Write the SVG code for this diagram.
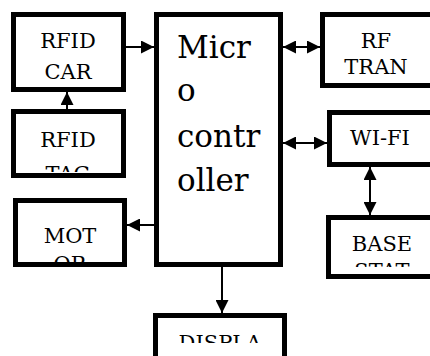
<svg xmlns="http://www.w3.org/2000/svg" width="430" height="356" viewBox="0 0 430 356">
<style>
.box{fill:#fff;stroke:#000;stroke-width:5}
text{font-family:'DejaVu Serif','Liberation Serif',serif;fill:#000}
.t{font-size:21px;text-anchor:middle}
.big{font-size:31px}
.c{stroke:#000;stroke-width:2;fill:none}
</style>
<defs>
<marker id="ah" markerUnits="userSpaceOnUse" markerWidth="13" markerHeight="13" refX="13" refY="6.5" orient="auto-start-reverse">
<path d="M0,0 L13,6.5 L0,13 z" fill="#000"/>
</marker>
<clipPath id="cCar"><rect x="16" y="17" width="105" height="70"/></clipPath>
<clipPath id="cTag"><rect x="16" y="114" width="105" height="58"/></clipPath>
<clipPath id="cMot"><rect x="18" y="203" width="104" height="59"/></clipPath>
<clipPath id="cRf"><rect x="325" y="17" width="105" height="66"/></clipPath>
<clipPath id="cWifi"><rect x="332" y="115" width="98" height="47"/></clipPath>
<clipPath id="cBase"><rect x="331" y="220" width="99" height="47"/></clipPath>
<clipPath id="cDisp"><rect x="158" y="318" width="124" height="25"/></clipPath>
</defs>
<g id="connectors">
<line class="c" x1="126" y1="47" x2="154" y2="47" marker-end="url(#ah)"/>
<line class="c" x1="67" y1="109" x2="67" y2="92" marker-end="url(#ah)"/>
<line class="c" x1="283" y1="47" x2="320" y2="47" marker-start="url(#ah)" marker-end="url(#ah)"/>
<line class="c" x1="283" y1="143" x2="327" y2="143" marker-start="url(#ah)" marker-end="url(#ah)"/>
<line class="c" x1="370" y1="167" x2="370" y2="215" marker-start="url(#ah)" marker-end="url(#ah)"/>
<line class="c" x1="154" y1="225" x2="127" y2="225" marker-end="url(#ah)"/>
<line class="c" x1="222" y1="267" x2="222" y2="313" marker-end="url(#ah)"/>
</g>
<g id="rfid-car">
<rect class="box" x="13.5" y="14.5" width="110" height="75"/>
<g clip-path="url(#cCar)"><text class="t" x="68" y="48">RFID</text><text class="t" x="68" y="79">CAR</text></g>
</g>
<g id="rfid-tag">
<rect class="box" x="13.5" y="111.5" width="110" height="64"/>
<g clip-path="url(#cTag)"><text class="t" x="68" y="147">RFID</text><text class="t" x="68" y="181">TAG</text></g>
</g>
<g id="motor">
<rect class="box" x="15.5" y="200.5" width="109" height="64"/>
<g clip-path="url(#cMot)"><text class="t" x="70" y="243">MOT</text><text class="t" x="70" y="271">OR</text></g>
</g>
<g id="microcontroller">
<rect class="box" x="156.5" y="14.5" width="124" height="250"/>
<text class="big" x="177" y="58">Micr</text>
<text class="big" x="177" y="101">o</text>
<text class="big" x="177" y="147">contr</text>
<text class="big" x="177" y="191">oller</text>
</g>
<g id="rf-tran">
<rect class="box" x="322.5" y="14.5" width="112" height="71"/>
<g clip-path="url(#cRf)"><text class="t" x="376" y="48">RF</text><text class="t" x="376" y="74">TRAN</text></g>
</g>
<g id="wifi">
<rect class="box" x="329.5" y="112.5" width="105" height="52"/>
<g clip-path="url(#cWifi)"><text class="t" x="380" y="145">WI-FI</text></g>
</g>
<g id="base-station">
<rect class="box" x="328.5" y="217.5" width="106" height="59"/>
<g clip-path="url(#cBase)"><text class="t" x="382" y="251">BASE</text><text class="t" x="382" y="278">STAT</text></g>
</g>
<g id="display">
<rect class="box" x="155.5" y="315.5" width="129" height="60"/>
<g clip-path="url(#cDisp)"><text class="t" x="220" y="350">DISPLA</text></g>
</g>
</svg>
